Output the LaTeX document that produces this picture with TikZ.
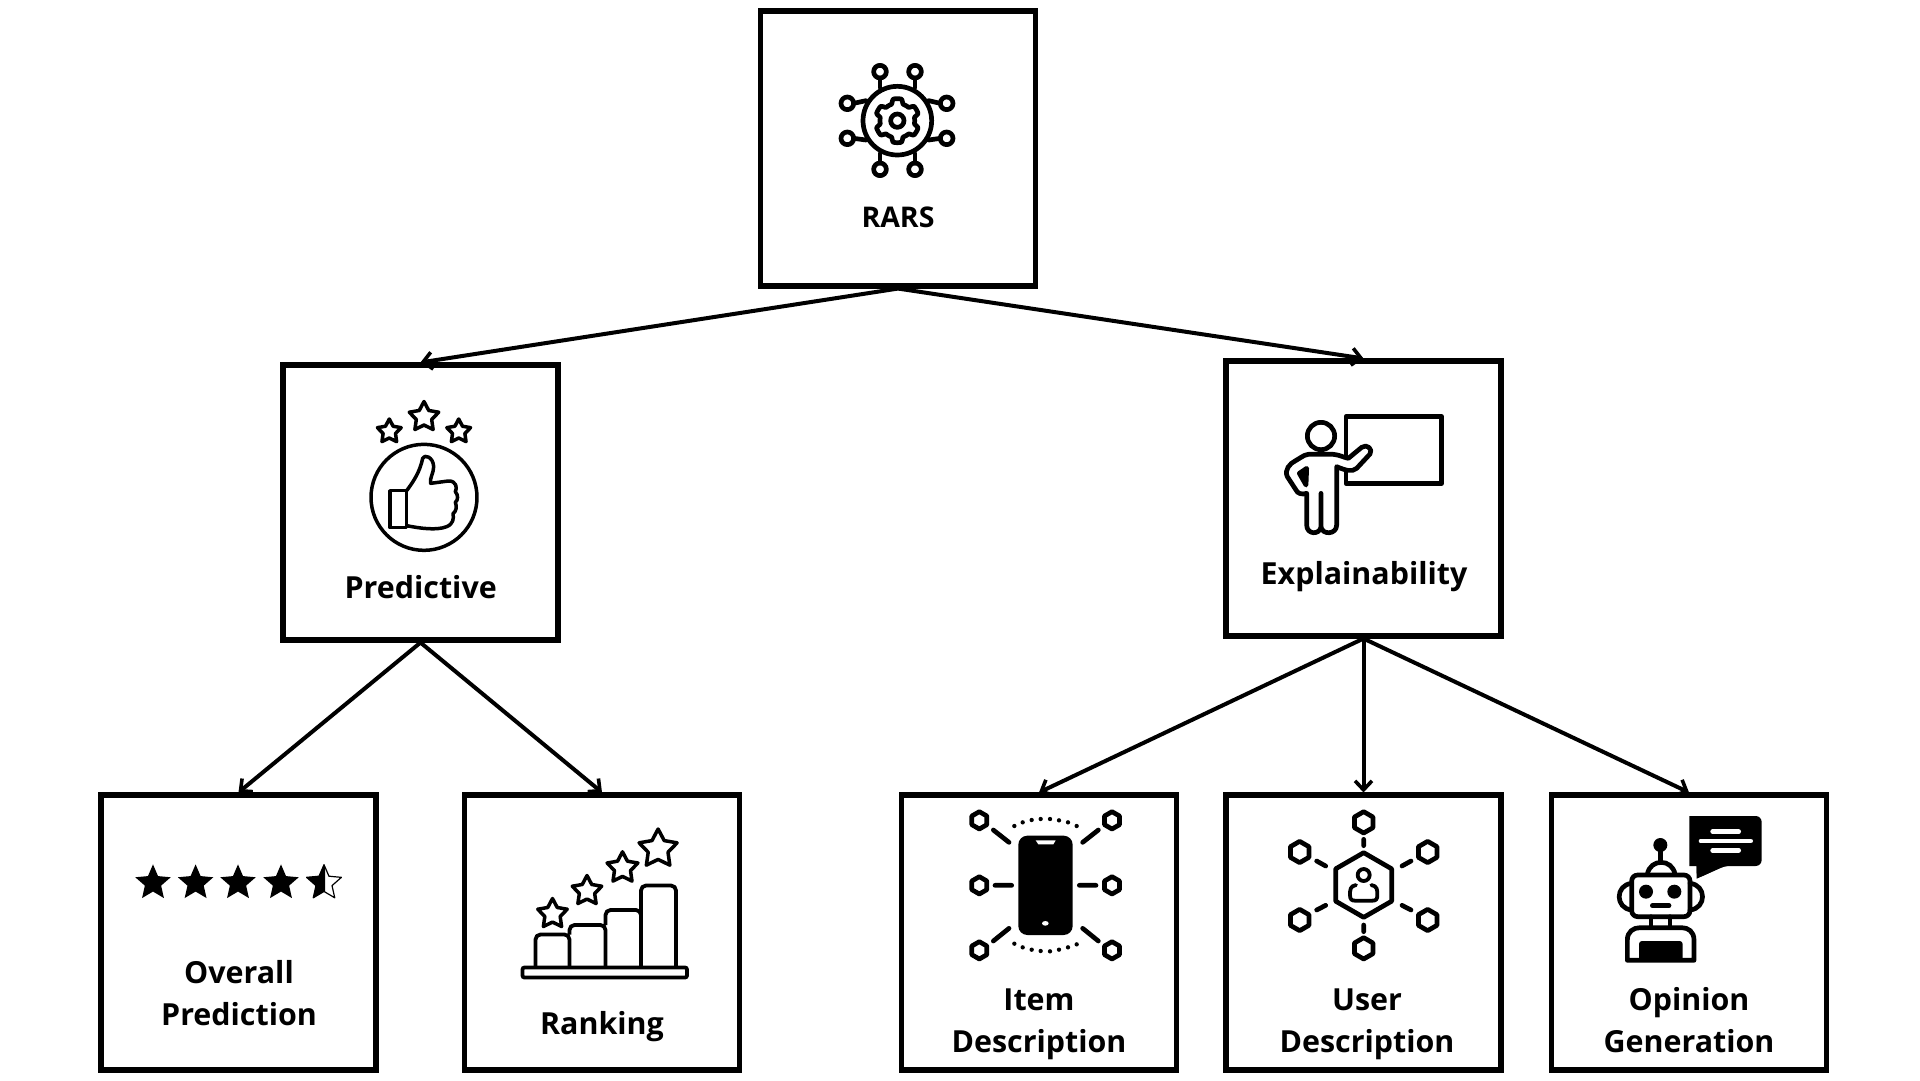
\documentclass[tikz,border=0pt]{standalone}
\usepackage{fontspec}
\setmainfont{Open Sans}
\usetikzlibrary{arrows.meta}
\tikzset{
  nodebox/.style={draw=black,line width=5.1pt,minimum width=275pt,minimum height=275pt,inner sep=0pt},
  lbl/.style={font=\bfseries\fontsize{30.4}{42}\selectfont,align=center,inner sep=0pt,anchor=base,text=black},
  conn/.style={line width=4pt,-{Straight Barb[length=9pt,width=17pt,line width=3.6pt]}},
  zoomed/.style 2 args={shift={(#1,#2)},x=.33333pt,y=-.33333pt},
  icon/.style={line width=4.7pt,line join=round,line cap=round},
  thin icon/.style={line width=3.5pt,line join=round,line cap=round}
}
% cx, cy, R, inner ratio, style
\newcommand\mystar[5]{\path[#5,shift={(#1,#2)}] plot[samples at={0,...,9},variable=\k] ({ifthenelse(mod(\k,2)==0,#3,#3*#4)*sin(36*\k)},{-ifthenelse(mod(\k,2)==0,#3,#3*#4)*cos(36*\k)}) -- cycle;}
% hexagon: cx, cy, R (in current units), pointy top
\newcommand\myhex[3]{(#1,#2-#3) -- (#1+.866*#3,#2-.5*#3) -- (#1+.866*#3,#2+.5*#3) -- (#1,#2+#3) -- (#1-.866*#3,#2+.5*#3) -- (#1-.866*#3,#2-.5*#3) -- cycle}
\begin{document}
\begin{tikzpicture}[x=1pt,y=-1pt]
\useasboundingbox (0,0) rectangle (1920,1080);
% boxes
\node[nodebox] (rars) at (898,148.5) {};
\node[nodebox] (pred) at (420.5,502.5) {};
\node[nodebox] (expl) at (1363.5,498.5) {};
\node[nodebox] (over) at (238.5,932.5) {};
\node[nodebox] (rank) at (602,932.5) {};
\node[nodebox] (item) at (1039,932.5) {};
\node[nodebox] (user) at (1363.5,932.5) {};
\node[nodebox] (opin) at (1689,932.5) {};
% connectors
\draw[conn] (rars.south) -- (pred.north);
\draw[conn] (rars.south) -- (expl.north);
\draw[conn] (pred.south) -- (over.north);
\draw[conn] (pred.south) -- (rank.north);
\draw[conn] (expl.south) -- (item.north);
\draw[conn] (expl.south) -- (user.north);
\draw[conn] (expl.south) -- (opin.north);
% labels
\node[lbl,font=\bfseries\fontsize{28.5}{42}\selectfont] (lrars) at (898,227.7) {RARS};
\node[lbl] (lpred) at (420.7,598) {Predictive};
\node[lbl] (lexpl) at (1364,584) {Explainability};
\node[lbl] (lover) at (239,1025) {Overall\\Prediction};
\node[lbl] (lrank) at (602,1034) {Ranking};
\node[lbl] (litem) at (1039,1052) {Item\\Description};
\node[lbl] (luser) at (1367,1052) {User\\Description};
\node[lbl] (lopin) at (1689,1052) {Opinion\\Generation};
% RARS icon
\begin{scope}[zoomed={740}{0},icon]
  \draw (472,362) circle[radius=103];
  \draw (472,362) circle[radius=20];
  \draw[shift={(472,362)}] plot[samples=144,domain=0:357.5,variable=\t] ({(52+14*max(0,min(1,0.5-1.3*cos(6*\t))))*cos(\t)},{(52+14*max(0,min(1,0.5-1.3*cos(6*\t))))*sin(\t)}) -- cycle;
  \foreach \a/\b in {420/215,525/215,420/508,525/508,322/310,322/415,620/310,620/415}
    \draw (\a,\b) circle[radius=19];
  \draw (420,234) -- (420,263) (525,234) -- (525,263) (420,461) -- (420,489) (525,461) -- (525,489);
  \draw (341,310) -- (378,302) (341,415) -- (378,420) (601,310) -- (566,302) (601,415) -- (566,420);
\end{scope}
% Predictive icon
\mystar{424}{417}{15.5}{.52}{draw,thin icon}
\mystar{389.3}{431.5}{12.5}{.52}{draw,thin icon}
\mystar{458.7}{431.5}{12.5}{.52}{draw,thin icon}
\begin{scope}[zoomed={270}{350},thin icon]
  \draw (462,442) circle[radius=159];
  \draw (410,422) -- (360,422) -- (360,533) -- (410,533) -- cycle;
  \draw (410,422) .. controls (430,395) and (450,365) .. (458,325) .. controls (462,312) and (490,320) .. (491,350)
    .. controls (491,370) and (478,385) .. (482,400) -- (535,393) .. controls (560,392) and (562,415) .. (556,425)
    .. controls (565,435) and (565,450) .. (556,457) .. controls (562,470) and (558,485) .. (549,491)
    .. controls (552,505) and (550,522) .. (530,530) .. controls (500,542) and (450,535) .. (410,527);
\end{scope}
% Explainability icon
\begin{scope}[zoomed={1210}{350},icon]
  \draw (408,200) rectangle (695,400);
  \draw[fill=white] (333,258) circle[radius=41];
  \draw[fill=white] (295,313) -- (370,313) .. controls (390,315) and (400,322) .. (415,325) -- (455,292)
    .. controls (470,280) and (490,298) .. (480,312) -- (440,355) .. controls (425,368) and (405,360) .. (380,350)
    -- (380,525) .. controls (380,555) and (335,555) .. (333,530) -- (333,430) -- (333,530)
    .. controls (330,555) and (290,555) .. (290,525) -- (290,430)
    .. controls (275,435) and (262,430) .. (258,420) -- (232,380) .. controls (222,360) and (240,340) .. (255,333) .. controls (270,325) and (280,315) .. (295,313) -- cycle;
  \draw[fill=black] (290,355) -- (268,370) -- (288,405) -- cycle;
\end{scope}
% Overall Prediction icon
\foreach \sx in {153,195.6,238,281}
  {\mystar{\sx}{883}{18.6}{.46}{fill=black}}
\mystar{324}{883}{18.3}{.46}{draw=black,line width=1.2pt,line join=round,fill=white}
\begin{scope}
  \clip (300,860) rectangle (325,905);
  \mystar{324}{883}{18.6}{.46}{fill=black}
\end{scope}
% Ranking icon
\begin{scope}[xshift=1.5pt]
\draw[line width=3.8pt,rounded corners=2pt] (521,967.5) rectangle (685.5,977.5);
\draw[line width=3.8pt,line join=round,rounded corners=5pt]
  (534,967.5) -- (534,934.5) -- (568,934.5) -- (568,967.5)
  (568,934.5) -- (568,925) -- (604,925) -- (604,967.5)
  (604,925) -- (604,910) -- (639.5,910) -- (639.5,967.5)
  (639.5,967.5) -- (639.5,885.5) -- (674.5,885.5) -- (674.5,967.5);
\mystar{551}{914}{15.5}{.52}{draw,thin icon}
\mystar{585.5}{891}{15.5}{.52}{draw,thin icon}
\mystar{621}{868}{16.2}{.52}{draw,thin icon}
\mystar{656.6}{849}{20}{.52}{draw,thin icon}
\end{scope}
% Item Description icon
\begin{scope}[zoomed={890}{780},icon]
  \fill[black,rounded corners=9pt] (385,167) rectangle (548,465);
  \fill[white] (437,181) -- (497,181) -- (490,193) -- (445,193) -- cycle;
  \fill[white] (466,430) ellipse[x radius=10,y radius=7];
  \foreach \a/\b in {268/121,666/121,268/316,666/316,268/511,666/511}
    \draw \myhex{\a}{\b}{26};
  \draw (310,150) -- (357,187) (625,150) -- (578,187) (315,316) -- (365,316) (568,316) -- (618,316) (357,445) -- (310,483) (578,445) -- (625,483);
  \foreach \a/\b in {373/138,398/127,425/120,452/117,480/117,507/121,534/127,560/138,373/491,398/502,425/509,452/513,480/514,507/509,534/502,560/493}
    \fill (\a,\b) circle[radius=6.5];
\end{scope}
% User Description icon
\begin{scope}[zoomed={1210}{780},icon]
  \draw \myhex{461}{315}{97};
  \foreach \a/\b in {461/127,461/505,269/216,653/216,269/420,653/420}
    \draw \myhex{\a}{\b}{32};
  \draw (461,178) -- (461,197) (461,435) -- (461,455) (320,243) -- (347,258) (603,243) -- (576,258) (320,390) -- (347,376) (576,376) -- (603,390);
  \draw[line width=3.8pt] (461,285) circle[radius=18];
  \draw[line width=3.8pt] (438,315) .. controls (420,318) and (420,330) .. (420,345) .. controls (420,358) and (425,362) .. (435,362) -- (487,362) .. controls (498,362) and (502,358) .. (502,345) .. controls (502,330) and (502,318) .. (484,315);
\end{scope}
% Opinion Generation icon
\begin{scope}[zoomed={1540}{780},icon]
  \fill[black,rounded corners=6pt] (448,108) -- (665,108) -- (665,258) -- (552,258) -- (470,296) [sharp corners] -- (470,258) -- (448,258) -- cycle;
  \fill[black] (470,240) -- (555,258) -- (470,296) -- cycle;
  \draw[white] (518,155) -- (596,155) (483,183) -- (632,183) (518,211) -- (596,211);
  \draw[rounded corners=6pt] (275,285) rectangle (450,410);
  \fill (318,335) circle[radius=21] (403,335) circle[radius=21];
  \draw (337,377) -- (387,377);
  \draw (275,310) .. controls (225,315) and (225,385) .. (275,390);
  \draw (450,310) .. controls (500,315) and (500,385) .. (450,390);
  \draw (322,283) .. controls (330,235) and (397,235) .. (405,283);
  \fill (361,195) circle[radius=21];
  \draw (361,195) -- (361,245);
  \draw (333,410) -- (333,442) (390,410) -- (390,442);
  \draw (262,541) -- (262,480) .. controls (262,455) and (280,443) .. (300,443) -- (425,443) .. controls (445,443) and (462,455) .. (462,480) -- (462,541) -- cycle;
  \fill[rounded corners=3pt] (297,545) -- (297,483) -- (428,483) -- (428,545) -- cycle;
\end{scope}
\end{tikzpicture}
\end{document}
